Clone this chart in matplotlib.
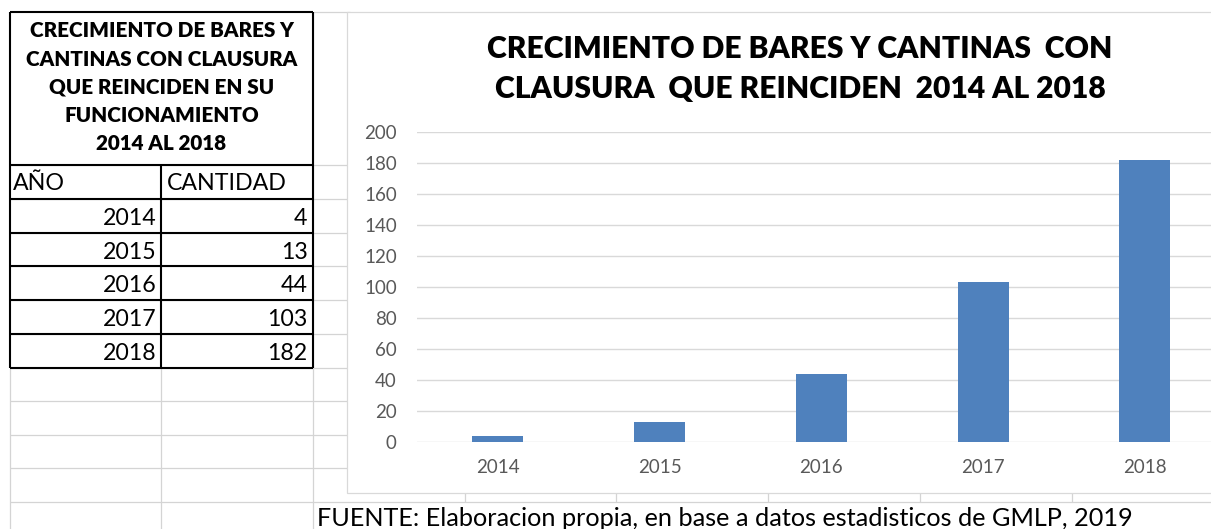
import matplotlib
matplotlib.use('Agg')
import matplotlib.pyplot as plt
from matplotlib.patches import Rectangle
from matplotlib.lines import Line2D

# ---------------- data ----------------
years = [2014, 2015, 2016, 2017, 2018]
cantidad = [4, 13, 44, 103, 182]
year_labels = ["2014", "2015", "2016", "2017", "2018"]
y_ticks = [0, 20, 40, 60, 80, 100, 120, 140, 160, 180, 200]
chart_title_1 = "CRECIMIENTO DE BARES Y CANTINAS  CON"
chart_title_2 = "CLAUSURA  QUE REINCIDEN  2014 AL 2018"
table_title_lines = ["CRECIMIENTO DE BARES Y", "CANTINAS CON CLAUSURA",
                     "QUE REINCIDEN EN SU", "FUNCIONAMIENTO", "2014 AL 2018"]
col_headers = ["AÑO", "CANTIDAD"]
source_note = "FUENTE: Elaboracion propia, en base a datos estadisticos de GMLP, 2019"

# ---------------- figure ----------------
W, H = 1211, 529
fig = plt.figure(figsize=(W / 100, H / 100), dpi=100)
fig.patch.set_facecolor('white')
FONT = 'Lato'
GRID = '#d4d4d4'
renderer = fig.canvas.get_renderer()


def fx(x):
    return x / W


def fy(y):
    return 1 - y / H


def hline(y, x0, x1, color=GRID, lw=0.9, z=1):
    fig.add_artist(Line2D([fx(x0), fx(x1)], [fy(y), fy(y)], color=color, lw=lw,
                          zorder=z, solid_capstyle='butt', transform=fig.transFigure))


def vline(x, y0, y1, color=GRID, lw=0.9, z=1):
    fig.add_artist(Line2D([fx(x), fx(x)], [fy(y0), fy(y1)], color=color, lw=lw,
                          zorder=z, solid_capstyle='butt', transform=fig.transFigure))


def fit(t, target):
    bb = t.get_window_extent(renderer)
    t.set_fontsize(t.get_fontsize() * target / bb.width)
    return t


# spreadsheet grid (gray)
rows = [165, 199, 232.5, 266, 300, 334, 367.5, 401, 434.5, 468, 501.5]
hline(12, 313, 350)
for r in rows:
    hline(r, 10, W + 5)
vline(10, 367.5, H + 2)
vline(161, 367.5, H + 2)
vline(313, 12, H + 2)
for c in [465, 616, 768, 920, 1072]:
    vline(c, 490, 501.5)

# table borders (black)
BL = 1.5
for r in [12, 165, 199, 232.5, 266, 300, 334, 367.5]:
    hline(r, 10, 313, color='black', lw=BL, z=4)
vline(10, 12, 367.5, color='black', lw=BL, z=4)
vline(313, 12, 367.5, color='black', lw=BL, z=4)
vline(161, 165, 367.5, color='black', lw=BL, z=4)

# table texts
header_baselines = [37.3, 65.7, 94, 122, 150]
ref = fig.text(fx(161.5), fy(header_baselines[1]), table_title_lines[1], ha='center',
               va='baseline', fontsize=14, fontweight='heavy', family=FONT, zorder=5)
fit(ref, 272)
hsize = ref.get_fontsize()
for i, line in enumerate(table_title_lines):
    if i == 1:
        continue
    fig.text(fx(161.5), fy(header_baselines[i]), line, ha='center', va='baseline',
             fontsize=hsize, fontweight='heavy', family=FONT, zorder=5)

t = fig.text(fx(166.5), fy(190.5), col_headers[1], ha='left', va='baseline',
             fontsize=15, family=FONT, zorder=5)
fit(t, 120)
csize = t.get_fontsize()
fig.text(fx(12.5), fy(190.5), col_headers[0], ha='left', va='baseline',
         fontsize=csize, family=FONT, zorder=5)

row_baselines = [225, 259, 292.5, 326.5, 360]
for yr, val, b in zip(year_labels, cantidad, row_baselines):
    fig.text(fx(156.5), fy(b), yr, ha='right', va='baseline', fontsize=csize,
             family=FONT, zorder=5)
    fig.text(fx(307.5), fy(b), str(val), ha='right', va='baseline', fontsize=csize,
             family=FONT, zorder=5)

# source note
t = fig.text(fx(317), fy(526), source_note, ha='left', va='baseline', fontsize=15,
             family=FONT, zorder=5)
fit(t, 818)

# chart area box
fig.add_artist(Rectangle((fx(346.5), fy(492.5)), fx(W + 20) - fx(346.5), (492.5 - 12) / H,
                         transform=fig.transFigure, facecolor='white',
                         edgecolor='#d9d9d9', lw=0.9, zorder=2))

# chart title
t1 = fig.text(fx(800), fy(58), chart_title_1, ha='center', va='baseline', fontsize=20,
              fontweight='heavy', family=FONT, zorder=5)
fit(t1, 625)
fig.text(fx(800), fy(98), chart_title_2, ha='center', va='baseline',
         fontsize=t1.get_fontsize(), fontweight='heavy', family=FONT, zorder=5)

# axes
cat_w = 161.75
ax = fig.add_axes([fx(417), fy(442), 5 * cat_w / W, (442 - 132) / H], zorder=3)
ax.set_facecolor('none')
xpos = list(range(len(years)))
ax.bar(xpos, cantidad, width=0.315, color='#4F81BD', zorder=3)
ax.set_xlim(-0.5, 4.5)
ax.set_ylim(0, 200)
ax.set_yticks(y_ticks)
ax.set_yticklabels([str(v) for v in y_ticks])
ax.set_xticks(xpos)
ax.set_xticklabels(year_labels)
ax.yaxis.grid(True, color='#d9d9d9', lw=1.0, zorder=0)
ax.set_axisbelow(True)
for s in ax.spines.values():
    s.set_visible(False)
ax.tick_params(axis='both', length=0, labelcolor='#595959', labelsize=13.5)
ax.tick_params(axis='y', pad=14.5)
ax.tick_params(axis='x', pad=12)
for lab in ax.get_xticklabels() + ax.get_yticklabels():
    lab.set_family(FONT)

fig.savefig('out.png', dpi=100)
